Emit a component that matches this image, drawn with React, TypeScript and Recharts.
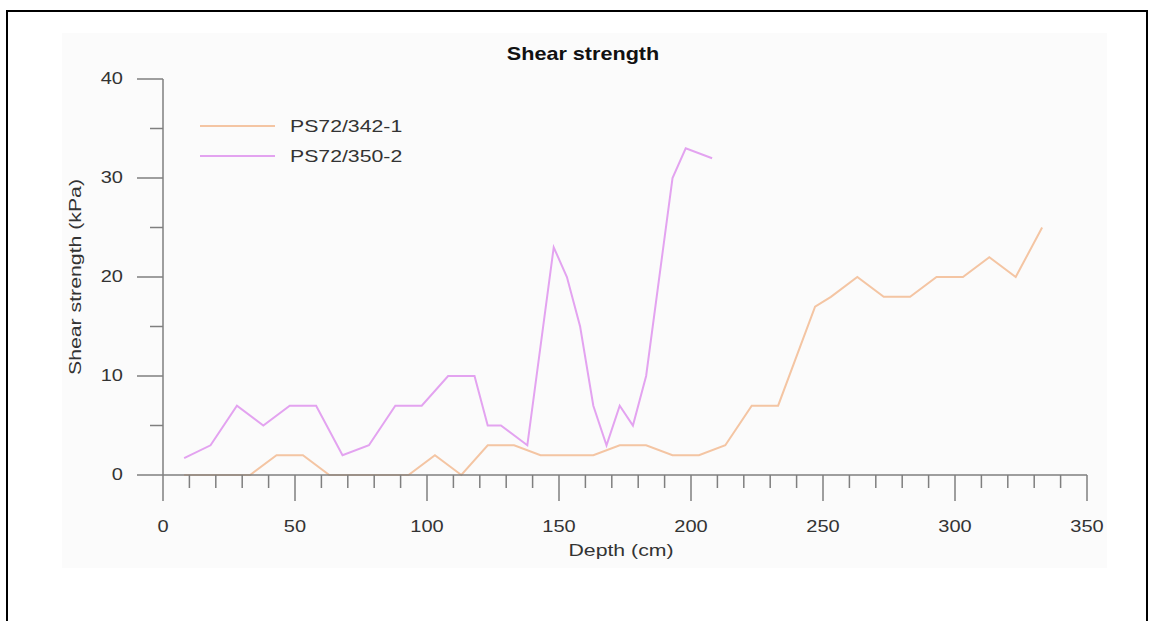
import { Line, LineChart, XAxis, YAxis } from 'recharts'

// PS72/342-1
const depth342 = [8, 18, 28, 33, 43, 53, 63, 73, 83, 93, 103, 113, 123, 133, 143, 153, 163, 173, 183, 193, 203, 213, 223, 233, 247, 253, 263, 273, 283, 293, 303, 313, 323, 333]
const shear342 = [0, 0, 0, 0, 2, 2, 0, 0, 0, 0, 2, 0, 3, 3, 2, 2, 2, 3, 3, 2, 2, 3, 7, 7, 17, 18, 20, 18, 18, 20, 20, 22, 20, 25]

// PS72/350-2
const depth350 = [8, 18, 28, 38, 48, 58, 68, 78, 88, 98, 108, 118, 123, 128, 138, 148, 153, 158, 163, 168, 173, 178, 183, 193, 198, 208]
const shear350 = [1.7, 3, 7, 5, 7, 7, 2, 3, 7, 7, 10, 10, 5, 5, 3, 23, 20, 15, 7, 3, 7, 5, 10, 30, 33, 32]

const xTicks = [0, 10, 20, 30, 40, 50, 60, 70, 80, 90, 100, 110, 120, 130, 140, 150, 160, 170, 180, 190, 200, 210, 220, 230, 240, 250, 260, 270, 280, 290, 300, 310, 320, 330, 340, 350]
const yTicks = [0, 5, 10, 15, 20, 25, 30, 35, 40]

const series = [
  { name: 'PS72/342-1', color: '#f4c5a3', data: depth342.map((d, i) => ({ d, v: shear342[i] })) },
  { name: 'PS72/350-2', color: '#e3a3f0', data: depth350.map((d, i) => ({ d, v: shear350[i] })) },
]

const AXIS = '#7f7f7f'
const TEXT = '#333'
const FONT = '"Liberation Sans", Arial, sans-serif'
const SX = 1.25

function XTick({ x, y, payload }: any) {
  const major = payload.value % 50 === 0
  return (
    <g>
      <line x1={x} y1={y} x2={x} y2={y + (major ? 26 : 13)} stroke={AXIS} strokeWidth={1.5} />
      {major && (
        <text
          transform={`translate(${x},${y + 52}) scale(${SX},1)`}
          textAnchor="middle"
          dominantBaseline="central"
          fontSize={16}
          fontFamily={FONT}
          fill={TEXT}
        >
          {payload.value}
        </text>
      )}
    </g>
  )
}

function YTick({ x, y, payload }: any) {
  const major = payload.value % 10 === 0
  return (
    <g>
      <line x1={x - (major ? 26 : 13)} y1={y} x2={x} y2={y} stroke={AXIS} strokeWidth={1.5} />
      {major && (
        <text
          transform={`translate(${x - 40},${y}) scale(${SX},1)`}
          textAnchor="end"
          dominantBaseline="central"
          fontSize={16}
          fontFamily={FONT}
          fill={TEXT}
        >
          {payload.value}
        </text>
      )}
    </g>
  )
}

export default function App() {
  return (
    <div style={{ position: 'absolute', left: 0, top: 0, width: 1154, height: 621, background: '#fff', overflow: 'hidden' }}>
      <div style={{ position: 'absolute', left: 62, top: 33, width: 1045, height: 535, background: '#fbfbfb' }} />
      <div
        style={{
          position: 'absolute',
          left: 6,
          top: 10,
          width: 1138,
          height: 640,
          border: '2px solid #000',
        }}
      />
      <div style={{ position: 'absolute', left: 0, top: 0 }}>
        <LineChart width={1154} height={621} margin={{ top: 79, right: 67, bottom: 116, left: 103 }}>
          <XAxis
            dataKey="d"
            type="number"
            domain={[0, 350]}
            ticks={xTicks}
            interval={0}
            tickSize={0}
            tickMargin={0}
            tickLine={false}
            tick={<XTick />}
            height={30}
            axisLine={{ stroke: AXIS, strokeWidth: 1.5 }}
            allowDuplicatedCategory={false}
          />
          <YAxis
            type="number"
            domain={[0, 40]}
            ticks={yTicks}
            interval={0}
            tickSize={0}
            tickMargin={0}
            tickLine={false}
            tick={<YTick />}
            width={60}
            axisLine={{ stroke: AXIS, strokeWidth: 1.5 }}
          />
          {series.map((s) => (
            <Line
              key={s.name}
              data={s.data}
              dataKey="v"
              name={s.name}
              type="linear"
              stroke={s.color}
              strokeWidth={2}
              dot={false}
              activeDot={false}
              isAnimationActive={false}
            />
          ))}
        </LineChart>
      </div>
      <svg width={1154} height={621} style={{ position: 'absolute', left: 0, top: 0, pointerEvents: 'none' }}>
        <text
          transform={`translate(583,54) scale(1.2,1)`}
          textAnchor="middle"
          dominantBaseline="central"
          fontSize={18}
          fontWeight="bold"
          fontFamily={FONT}
          fill="#111"
        >
          Shear strength
        </text>
        {series.map((s, i) => (
          <g key={s.name}>
            <line x1={200} y1={126 + i * 30} x2={275} y2={126 + i * 30} stroke={s.color} strokeWidth={2} />
            <text
              transform={`translate(290,${126 + i * 30}) scale(${SX},1)`}
              dominantBaseline="central"
              fontSize={17}
              fontFamily={FONT}
              fill={TEXT}
            >
              {s.name}
            </text>
          </g>
        ))}
        <text
          transform={`translate(621,550) scale(${SX},1)`}
          textAnchor="middle"
          dominantBaseline="central"
          fontSize={17}
          fontFamily={FONT}
          fill={TEXT}
        >
          Depth (cm)
        </text>
        <text
          transform={`translate(75,277) rotate(-90) scale(${SX},1)`}
          textAnchor="middle"
          dominantBaseline="central"
          fontSize={17}
          fontFamily={FONT}
          fill={TEXT}
        >
          Shear strength (kPa)
        </text>
      </svg>
    </div>
  )
}
